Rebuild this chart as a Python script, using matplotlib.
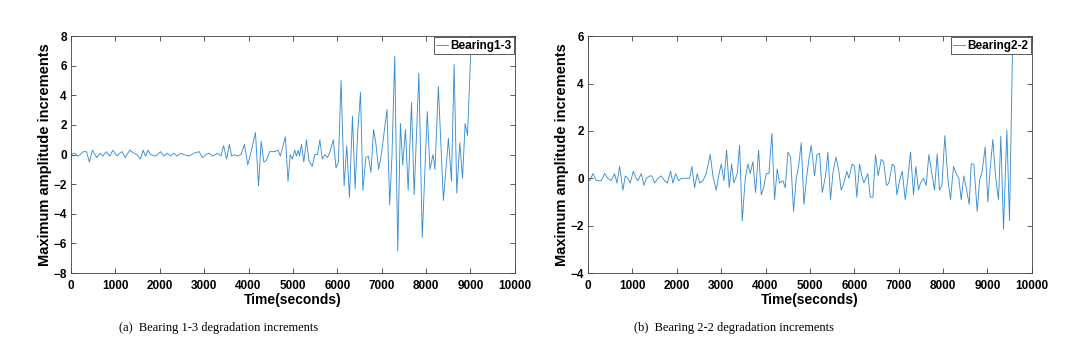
import numpy as np
import matplotlib.pyplot as plt

# Bearing 1-3: time (s) and amplitude increment
t_b13 = [0, 80, 166, 280, 350, 416, 484, 582, 658, 718, 794, 870, 945, 1036, 1096, 1150,
         1224, 1323, 1413, 1489, 1565, 1625, 1678, 1739, 1791, 1905, 2018, 2094, 2169, 2245,
         2320, 2396, 2470, 2547, 2660, 2774, 2887, 2963, 3039, 3114, 3190, 3303, 3379, 3439,
         3507, 3568, 3620, 3681, 3757, 3832, 3908, 3983, 4074, 4157, 4225, 4286, 4346, 4400,
         4475, 4588, 4664, 4717, 4830, 4890, 4940, 4990, 5042, 5080, 5120, 5150, 5193, 5245,
         5306, 5360, 5435, 5495, 5555, 5608, 5661, 5722, 5782, 5835, 5911, 5972, 6025, 6085,
         6154, 6213, 6274, 6342, 6402, 6460, 6523, 6576, 6644, 6700, 6758, 6818, 6871, 6931,
         6992, 7120, 7180, 7233, 7294, 7362, 7422, 7475, 7536, 7596, 7672, 7732, 7838, 7914,
         7975, 8027, 8088, 8156, 8201, 8277, 8390, 8504, 8572, 8632, 8692, 8760, 8821, 8881,
         8934, 9040]
v_b13 = [0.0, 0.1, -0.1, 0.2, 0.2, -0.5, 0.3, -0.2, 0.1, -0.1, 0.2, -0.1, 0.3, -0.1, 0.1, 0.2,
         -0.2, 0.3, 0.1, 0.0, -0.3, 0.3, -0.1, 0.3, 0.0, -0.1, 0.2, -0.1, 0.1, -0.1,
         0.1, -0.1, 0.1, 0.0, -0.1, 0.1, 0.2, -0.2, 0.0, 0.1, -0.1, 0.1, -0.1, 0.6,
         -0.3, 0.7, -0.1, 0.0, -0.1, 0.0, 0.7, -0.7, 0.4, 1.5, -2.1, 0.9, -0.5, -0.4,
         0.2, 0.2, 0.3, -0.1, 1.2, -1.8, 0.0, -0.3, 0.3, -0.1, 0.3, -0.1, 0.7, -0.5,
         1.0, -0.4, -0.8, 0.0, 0.0, 1.0, -0.3, 0.0, -0.2, 0.2, 1.0, -0.9, -0.5, 5.0,
         -2.1, 0.6, -2.9, 2.6, -2.3, 1.5, 4.2, -2.4, -0.2, -0.1, -1.2, 1.7, 0.7, -1.0,
         0.0, 3.05, -3.4, 0.0, 6.65, -6.5, 2.1, -0.7, 1.7, -2.4, 3.5, -2.7, 5.5, -5.6,
         -1.0, 2.9, -1.0, 0.0, -1.0, 4.6, -3.1, 1.1, -1.8, 6.1, -2.6, 0.8, -1.6, 2.1,
         1.3, 9.5]

# Bearing 2-2
t_b22 = [0, 40, 113, 188, 300, 375, 450, 525, 600, 653, 713, 788, 841, 901, 954, 1021, 1089,
         1126, 1201, 1261, 1314, 1389, 1442, 1502, 1577, 1652, 1727, 1787, 1862, 1914, 1974,
         2042, 2102, 2215, 2290, 2342, 2402, 2462, 2515, 2590, 2665, 2755, 2815, 2890, 2943,
         3003, 3063, 3123, 3183, 3236, 3288, 3363, 3416, 3476, 3544, 3604, 3656, 3716, 3776,
         3844, 3904, 3957, 4017, 4077, 4144, 4204, 4264, 4317, 4392, 4444, 4505, 4565, 4632,
         4692, 4745, 4805, 4865, 4930, 4977, 5030, 5105, 5158, 5218, 5278, 5353, 5405, 5465,
         5518, 5585, 5653, 5705, 5765, 5833, 5878, 5953, 6006, 6058, 6119, 6171, 6216, 6307,
         6359, 6419, 6479, 6539, 6607, 6660, 6727, 6780, 6854, 6907, 6960, 7020, 7080, 7147,
         7207, 7267, 7335, 7387, 7447, 7492, 7560, 7620, 7680, 7748, 7808, 7868, 7920, 7973,
         8040, 8108, 8168, 8236, 8296, 8356, 8408, 8468, 8521, 8589, 8634, 8694, 8769, 8822,
         8881, 8949, 9009, 9062, 9121, 9182, 9249, 9302, 9362, 9437, 9497, 9580]
v_b22 = [0.0, -0.1, 0.2, -0.1, -0.1, 0.2, 0.0, -0.1, 0.2, -0.2, 0.5, -0.5, 0.1, 0.0, -0.2, 0.3, 0.0,
         -0.1, 0.2, -0.3, 0.0, 0.1, 0.1, -0.2, 0.0, 0.1, -0.1, -0.2, 0.3, -0.2, 0.2,
         -0.1, 0.0, 0.0, 0.0, 0.5, -0.4, 0.2, -0.2, -0.1, 0.2, 1.0, 0.1, -0.5, 0.1,
         0.6, -0.1, 1.2, -0.4, 0.6, -0.2, 0.2, 1.4, -1.8, 0.0, 0.6, 0.2, 0.7, -0.6,
         1.2, -0.7, -0.4, 0.2, 0.2, 1.9, -0.9, 0.4, -0.2, -0.1, -0.4, 1.1, 0.9, -1.4,
         0.0, 0.5, 1.5, -1.1, 0.1, 0.8, 1.4, 0.1, 1.0, 1.05, -0.6, 0.1, 1.1, -0.9,
         0.2, 0.9, 0.3, -0.5, -0.2, 0.3, 0.0, 0.6, 0.5, -0.8, 0.6, 0.1, -0.2, 0.2,
         -0.8, -0.8, 1.0, 0.1, 0.8, 0.7, -0.3, -0.2, 0.6, 0.5, -0.7, -0.1, 0.3, -0.9,
         0.0, 1.1, -0.7, 0.5, -0.5, -0.2, 0.0, -0.3, 1.0, 0.2, -0.5, 1.03, -0.5, -0.3,
         1.8, 0.0, -0.9, 0.5, 0.2, 0.0, -0.9, 0.1, -0.4, -1.1, 0.6, 0.6, -1.4, -0.1,
         0.3, 1.33, -1.0, 0.4, 1.64, 0.1, -0.9, 1.78, -2.15, 2.04, -1.78, 7.0]

x_ticks = np.arange(0, 10001, 1000)

panels = [
    (t_b13, v_b13, 'Bearing1-3', (-8, 8), '(a)  Bearing 1-3 degradation increments'),
    (t_b22, v_b22, 'Bearing2-2', (-4, 6), '(b)  Bearing 2-2 degradation increments'),
]
positions = [[0.0657, 0.222, 0.411, 0.675], [0.5444, 0.222, 0.411, 0.675]]
caption_x = [0.202, 0.68]

plt.rcParams['font.family'] = ['Liberation Sans', 'DejaVu Sans']
fig = plt.figure(figsize=(10.8, 3.51), dpi=100)

for (t, v, name, ylim, caption), pos, cx in zip(panels, positions, caption_x):
    ax = fig.add_axes(pos)
    ax.plot(t, v, color='#3a8fd3', linewidth=0.65, label=name)
    ax.set_xlim(0, 10000)
    ax.set_ylim(*ylim)
    ax.set_xticks(x_ticks)
    ax.set_yticks(np.arange(ylim[0], ylim[1] + 1, 2))
    ax.tick_params(direction='in', top=True, right=True, length=3.5, width=0.6,
                   labelsize=8.5, colors='#404040', labelcolor='black')
    ax.tick_params(axis='x', pad=5)
    ax.tick_params(axis='y', pad=3)
    for lbl in ax.get_xticklabels() + ax.get_yticklabels():
        lbl.set_fontweight('bold')
    for s in ax.spines.values():
        s.set_linewidth(0.6)
        s.set_color('#404040')
    ax.set_xlabel('Time(seconds)', fontsize=10, fontweight='bold', labelpad=1)
    ax.set_ylabel('Maximum amplitude increments', fontsize=10.5, fontweight='bold', labelpad=1)
    leg = ax.legend(loc='upper right', handlelength=1.0, handletextpad=0.2,
                    borderpad=0.2, borderaxespad=0.1, fancybox=False, framealpha=1,
                    edgecolor='#404040', prop={'weight': 'bold', 'size': 8.5})
    leg.get_frame().set_linewidth(0.6)
    fig.text(cx, 0.065, caption, ha='center', va='center', fontsize=9,
             family='Liberation Serif')

fig.savefig('out.png', dpi=100)
